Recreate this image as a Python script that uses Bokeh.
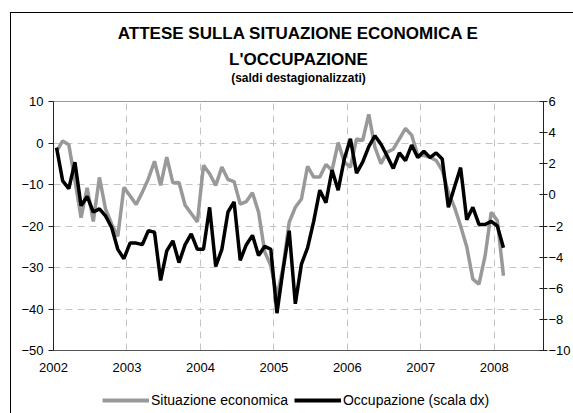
import pandas as pd
from bokeh.plotting import figure
from bokeh.layouts import column
from bokeh.models import (Range1d, LinearAxis, Legend, LegendItem, FixedTicker, Title)
from bokeh.embed import file_html
from bokeh.resources import INLINE

# ---------------- data (monthly, Jan 2002 - Feb 2008) ----------------
months = [d.strftime("%Y-%m") for d in pd.date_range("2002-01-01", "2008-02-01", freq="MS")]

situazione_economica = [
    -2.0, 0.5, -0.4, -9.0, -18.0, -10.8, -18.9, -8.3, -15.9, -19.5, -22.5, -10.7,
    -12.7, -14.8, -11.9, -8.6, -4.4, -10.2, -3.4, -9.6, -9.5, -15.0, -17.0, -19.0,
    -5.4, -7.4, -10.2, -5.8, -8.8, -9.3, -14.7, -14.1, -12.0, -16.7, -26.2, -29.6,
    -37.0, -30.0, -19.1, -15.5, -13.5, -5.6, -8.2, -8.2, -5.2, -6.6, 0.1, -4.6,
    -5.8, 1.0, 0.6, 6.9, -1.0, -5.0, -2.2, -1.5, 1.0, 3.5, 1.9, -3.0,
    -3.0, -3.4, -4.2, -6.6, -11.9, -15.5, -20.0, -25.0, -32.8, -34.0, -27.2, -16.7,
    -18.7, -32.0,
]

occupazione_dx = [
    3.04, 0.9, 0.4, 2.1, -0.7, -0.1, -1.1, -0.9, -1.35, -2.1, -3.5, -4.1,
    -3.1, -3.1, -3.2, -2.3, -2.4, -5.5, -3.6, -2.95, -4.35, -3.2, -2.5, -3.5,
    -3.5, -0.8, -4.6, -3.5, -1.1, -0.45, -4.2, -3.2, -2.6, -3.9, -3.3, -3.5,
    -7.6, -4.8, -2.3, -7.0, -4.45, -3.4, -1.7, 0.3, -0.5, 1.6, 0.3, 2.3,
    3.6, 1.4, 2.1, 3.1, 3.8, 3.25, 2.5, 1.7, 2.7, 2.2, 3.2, 2.4,
    2.8, 2.4, 2.7, 2.3, -0.8, 0.5, 1.75, -1.6, -0.8, -1.9, -1.9, -1.7,
    -2.0, -3.4,
]

years = [2002, 2003, 2004, 2005, 2006, 2007, 2008]
left_ticks = [-50, -40, -30, -20, -10, 0, 10]
right_ticks = [-10, -8, -6, -4, -2, 0, 2, 4, 6]

title_1 = "ATTESE SULLA SITUAZIONE ECONOMICA E"
title_2 = "L'OCCUPAZIONE"
subtitle = "(saldi destagionalizzati)"
label_gray = "Situazione economica"
label_black = "Occupazione (scala dx)"

# decimal-year position of each month (mid month)
x = [int(m[:4]) + (int(m[5:7]) - 0.5) / 12 for m in months]

FONT = "Liberation Sans"
GRID = "#c4c4c4"
GRAY = "#999999"
NAN = float("nan")

W = 562
p = figure(width=W, height=365, output_backend="svg", toolbar_location=None,
           title=None,
           x_range=Range1d(2002, 2008.67), y_range=Range1d(-50, 10),
           min_border_left=42, min_border_top=88, min_border_bottom=28,
           min_border_right=0)
p.background_fill_color = "white"
p.border_fill_color = "white"
p.outline_line_color = GRAY
p.outline_line_width = 1

p.extra_y_ranges = {"dx": Range1d(-10, 6)}

g = p.line(x, situazione_economica, line_color=GRAY, line_width=3.5)
b = p.line(x, occupazione_dx, y_range_name="dx", line_color="black", line_width=3.5)

# x axis
xa = p.xaxis[0]
xa.ticker = FixedTicker(ticks=years)
xa.major_label_overrides = {y: str(y) for y in years}
xa.major_tick_out = 0
xa.major_tick_in = 0
xa.minor_tick_line_color = None
xa.major_label_standoff = 12
xa.axis_line_color = "#555555"

# left axis
ya = p.yaxis[0]
ya.ticker = FixedTicker(ticks=left_ticks)
ya.major_tick_out = 5
ya.major_tick_in = 0
ya.minor_tick_line_color = None
ya.major_label_standoff = 5
ya.axis_line_color = "#222222"

# right axis
ra = LinearAxis(y_range_name="dx", ticker=FixedTicker(ticks=right_ticks))
ra.major_tick_out = 4
ra.major_tick_in = 4
ra.minor_tick_line_color = None
ra.major_label_standoff = 1
ra.axis_line_color = "#222222"
p.add_layout(ra, "right")

for ax in [xa, ya, ra]:
    ax.major_label_text_font = FONT
    ax.major_label_text_font_size = "13px"
    ax.major_label_text_color = "black"
    ax.major_tick_line_color = "#222222"

p.xgrid.ticker = FixedTicker(ticks=years)
p.ygrid.ticker = FixedTicker(ticks=left_ticks)
for gr in [p.xgrid[0], p.ygrid[0]]:
    gr.grid_line_color = GRID
    gr.grid_line_dash = "7 5"
    gr.grid_line_width = 1

# titles, stacked above the frame (first added = closest to the frame)
p.add_layout(Title(text=" ", text_font_size="12px", standoff=1), "above")
for txt, size, so in [(subtitle, "12px", 0), (title_2, "17px", -1), (title_1, "17px", 12)]:
    p.add_layout(Title(text=txt, align="center", text_font=FONT, text_font_size=size,
                       text_font_style="bold", text_color="black", standoff=so), "above")

# legend strip (separate small figure; its two line renderers only carry the styles)
pl = figure(width=W, height=35, output_backend="svg", toolbar_location=None,
            title=None, x_range=Range1d(0, 1), y_range=Range1d(0, 1),
            x_axis_location=None, y_axis_location=None,
            min_border_left=0, min_border_right=0, min_border_top=0, min_border_bottom=0)
pl.grid.visible = False
pl.outline_line_color = None
pl.background_fill_color = "white"
pl.border_fill_color = "white"
lg = pl.line([NAN], [NAN], line_color=GRAY, line_width=4)
lb = pl.line([NAN], [NAN], line_color="black", line_width=4)

legend = Legend(items=[LegendItem(label=label_gray, renderers=[lg]),
                       LegendItem(label=label_black, renderers=[lb])],
                location=(49, 5), orientation="horizontal")
legend.glyph_width = 47
legend.glyph_height = 16
legend.label_height = 16
legend.label_standoff = 2
legend.spacing = 6
legend.padding = 0
legend.margin = 0
legend.border_line_color = None
legend.background_fill_alpha = 0
legend.label_text_font = FONT
legend.label_text_font_size = "14px"
legend.label_text_color = "black"
pl.add_layout(legend)

layout = column(p, pl, spacing=0,
                styles={"margin-left": "10px", "margin-top": "12px",
                        "border-left": "1px solid #000", "border-top": "1px solid #000"})

open("out.html", "w").write(file_html(layout, INLINE))
